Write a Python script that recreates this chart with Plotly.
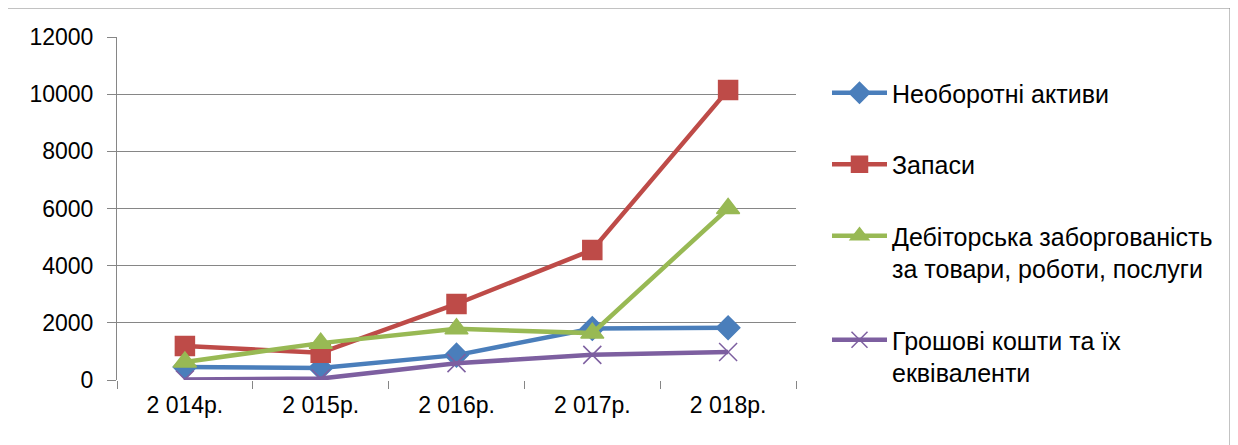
import plotly.graph_objects as go

years = ["2 014р.", "2 015р.", "2 016р.", "2 017р.", "2 018р."]
non_current = [455, 420, 870, 1800, 1830]
inventory = [1190, 950, 2660, 4550, 10150]
receivables = [630, 1290, 1790, 1640, 6000]
cash = [20, 50, 590, 880, 980]

names = [
    "Необоротні активи",
    "Запаси",
    "Дебіторська заборгованість<br>за товари, роботи, послуги",
    "Грошові кошти та їх<br>еквіваленти",
]
colors = ["#4A7EBB", "#BE4B48", "#98B954", "#7D5FA0"]
symbols = ["diamond", "square", "triangle-up", "x-thin"]
sizes = [18, 19, 20, 18]
series = [non_current, inventory, receivables, cash]

fig = go.Figure()
for i, (nm, vals, c, s, sz) in enumerate(zip(names, series, colors, symbols, sizes)):
    fig.add_trace(go.Scatter(
        x=years, y=vals, name=nm, mode="lines+markers", legendgroup=f"g{i}",
        line=dict(color=c, width=4.5),
        marker=dict(symbol=s, size=sz, color=c, line=dict(color=c, width=1.5)),
    ))

font = "Liberation Sans"
fs = 23
# page has an 8px body margin; plot area spans page x 117..796, y 37..380
fig.update_layout(
    width=1230, height=437,
    margin=dict(l=109, r=442, t=29, b=65, autoexpand=False),
    paper_bgcolor="white", plot_bgcolor="white",
    font=dict(family=font, size=fs, color="#000000"),
    showlegend=True,
    legend=dict(
        x=(827 - 117) / 679, y=1 - (70 - 37) / 343, xanchor="left", yanchor="top",
        font=dict(family=font, size=25, color="#000000"),
        tracegroupgap=36, itemwidth=55, valign="top",
        bgcolor="rgba(0,0,0,0)",
    ),
    xaxis=dict(
        type="category", showgrid=False, showline=False, automargin=False,
        ticks="outside", tickson="boundaries", ticklen=8, tickcolor="#868686",
        zeroline=False, range=[-0.5, 4.5], ticklabelstandoff=9,
        tickfont=dict(size=fs),
    ),
    yaxis=dict(
        range=[0, 12000], dtick=2000, tickformat="d", automargin=False,
        showgrid=True, gridcolor="#868686", gridwidth=1,
        showline=True, linecolor="#868686", linewidth=1,
        ticks="outside", ticklen=9, tickcolor="#868686", ticklabelstandoff=9,
        zeroline=False, tickfont=dict(size=fs),
    ),
    shapes=[dict(type="rect", xref="paper", yref="paper",
                 x0=-110/679, x1=(1230-117)/679, y0=-80/343, y1=1+29/343,
                 line=dict(color="#868686", width=1))],
)
fig.write_html("out.html")
